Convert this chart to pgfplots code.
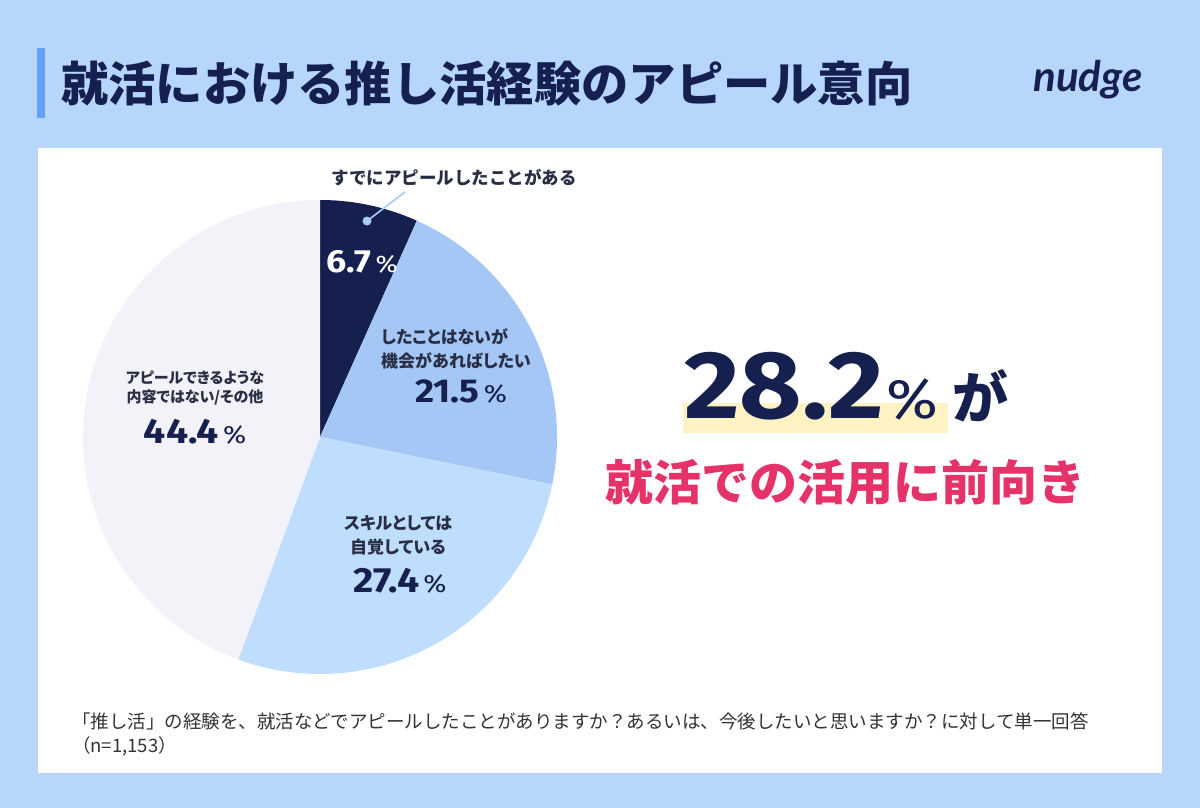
\documentclass[border=0pt]{standalone}
\usepackage{pgfplots}
\pgfplotsset{compat=1.18}
\usepackage{pgfplotstable}
\usepackage{fontspec}
\setmainfont{Noto Sans CJK JP}
\newfontfamily\jpp[RawFeature=+palt]{Noto Sans CJK JP}
\newfontfamily\numfont[FakeStretch=1.12]{Fira Sans}
\newfontfamily\logofont{Lato}
\definecolor{bg}{HTML}{B7D6FB}
\definecolor{accent}{HTML}{64A0F3}
\definecolor{navy}{HTML}{15204F}
\definecolor{midblue}{HTML}{A4C7F6}
\definecolor{lightblue}{HTML}{BFDDFD}
\definecolor{palegray}{HTML}{F3F2F8}
\definecolor{pink}{HTML}{E5336A}
\definecolor{hl}{HTML}{FFF3C4}
\definecolor{lbl}{HTML}{2A2E45}
\definecolor{note}{HTML}{333333}
\definecolor{leader}{HTML}{A9CBF5}

\pgfplotstableread{
idx value
0 6.7
1 21.5
2 27.4
3 44.4
}\piedata

\begin{document}
\begin{tikzpicture}
\pgfplotstablegetelem{0}{value}\of\piedata \pgfmathsetmacro{\va}{\pgfplotsretval}
\pgfplotstablegetelem{1}{value}\of\piedata \pgfmathsetmacro{\vb}{\pgfplotsretval}
\pgfplotstablegetelem{2}{value}\of\piedata \pgfmathsetmacro{\vc}{\pgfplotsretval}
\pgfplotstablegetelem{3}{value}\of\piedata \pgfmathsetmacro{\vd}{\pgfplotsretval}
\pgfmathsetmacro{\aA}{90}
\pgfmathsetmacro{\aB}{90-3.6*\va}
\pgfmathsetmacro{\aC}{\aB-3.6*\vb}
\pgfmathsetmacro{\aD}{\aC-3.6*\vc}
\pgfmathsetmacro{\aE}{\aD-3.6*\vd}
\begin{axis}[x=1pt,y=1pt,y dir=reverse,
  xmin=0,xmax=1200,ymin=0,ymax=808,
  hide axis, clip=false, scale only axis]
% background
\fill[bg] (axis cs:0,0) rectangle (axis cs:1200,808);
\fill[accent] (axis cs:37,48) rectangle (axis cs:45,118);
\fill[white] (axis cs:38,148) rectangle (axis cs:1162,773);
% title
\node[anchor=west, text=navy, inner sep=0pt] at (axis cs:61,84)
  {\bfseries\fontsize{47.3}{50}\selectfont 就活における推し活経験のアピール意向};
\node[text=navy, inner sep=0pt] at (axis cs:1088,80)
  {\logofont\itshape\bfseries\fontsize{42}{44}\selectfont nudge};
% pie
\fill[navy] (axis cs:320,437) -- ++(\aA:237pt) arc[start angle=\aA, end angle=\aB, radius=237pt] -- cycle;
\fill[midblue] (axis cs:320,437) -- ++(\aB:237pt) arc[start angle=\aB, end angle=\aC, radius=237pt] -- cycle;
\fill[lightblue] (axis cs:320,437) -- ++(\aC:237pt) arc[start angle=\aC, end angle=\aD, radius=237pt] -- cycle;
\fill[palegray] (axis cs:320,437) -- ++(\aD:237pt) arc[start angle=\aD, end angle=\aE, radius=237pt] -- cycle;
% leader
\draw[leader, line width=1.6pt] (axis cs:367,221) -- (axis cs:405,192);
\fill[leader] (axis cs:367,221) circle[radius=4.5pt];
% slice labels
\node[text=lbl, inner sep=0pt, font=\bfseries\fontsize{17.5}{20}\selectfont] at (axis cs:454,178)
  {すでにアピールしたことがある};
\node[anchor=base, text=white, inner sep=0pt] at (axis cs:362,272)
  {{\numfont\bfseries\fontsize{32}{32}\selectfont 6.7}{\numfont\fontsize{24}{24}\selectfont\,\%}};
\node[anchor=west, align=left, text=lbl, inner sep=0pt, font=\jpp\bfseries\fontsize{17}{24}\selectfont] at (axis cs:381,349)
  {したことはないが\\機会があればしたい};
\node[anchor=base, text=navy, inner sep=0pt] at (axis cs:461,402)
  {{\numfont\bfseries\fontsize{33}{33}\selectfont 21.5}{\numfont\fontsize{25}{25}\selectfont\,\%}};
\node[align=center, text=lbl, inner sep=0pt, font=\jpp\bfseries\fontsize{17}{24}\selectfont] at (axis cs:398,535)
  {スキルとしては\\自覚している};
\node[anchor=base, text=navy, inner sep=0pt] at (axis cs:400,592)
  {{\numfont\bfseries\fontsize{35}{35}\selectfont 27.4}{\numfont\fontsize{25}{25}\selectfont\,\%}};
\node[align=center, text=lbl, inner sep=0pt, font=\jpp\bfseries\fontsize{15}{19}\selectfont] at (axis cs:195,388)
  {アピールできるような\\内容ではない/その他};
\node[anchor=base, text=navy, inner sep=0pt] at (axis cs:195,443)
  {{\numfont\bfseries\fontsize{35}{35}\selectfont 44.4}{\numfont\fontsize{25}{25}\selectfont\,\%}};
% right headline
\fill[hl] (axis cs:683,403) rectangle (axis cs:948,433);
\node[anchor=base west, text=navy, inner sep=0pt] at (axis cs:684,418)
  {{\numfont\bfseries\fontsize{96}{96}\selectfont 28.2}\hspace{3pt}{\numfont\fontsize{56}{56}\selectfont\%}\hspace{14pt}{\bfseries\fontsize{56}{56}\selectfont が}};
\node[text=pink, inner sep=0pt] at (axis cs:845,482)
  {\bfseries\fontsize{48}{50}\selectfont 就活での活用に前向き};
% footnote
\node[anchor=west, text=note, inner sep=0pt] at (axis cs:72,721)
  {\fontsize{18.5}{20}\selectfont 「推し活」の経験を、就活などでアピールしたことがありますか？あるいは、今後したいと思いますか？に対して単一回答};
\node[anchor=west, text=note, inner sep=0pt] at (axis cs:72,746)
  {\fontsize{18.5}{20}\selectfont （n=1,153）};
\end{axis}
\end{tikzpicture}
\end{document}
